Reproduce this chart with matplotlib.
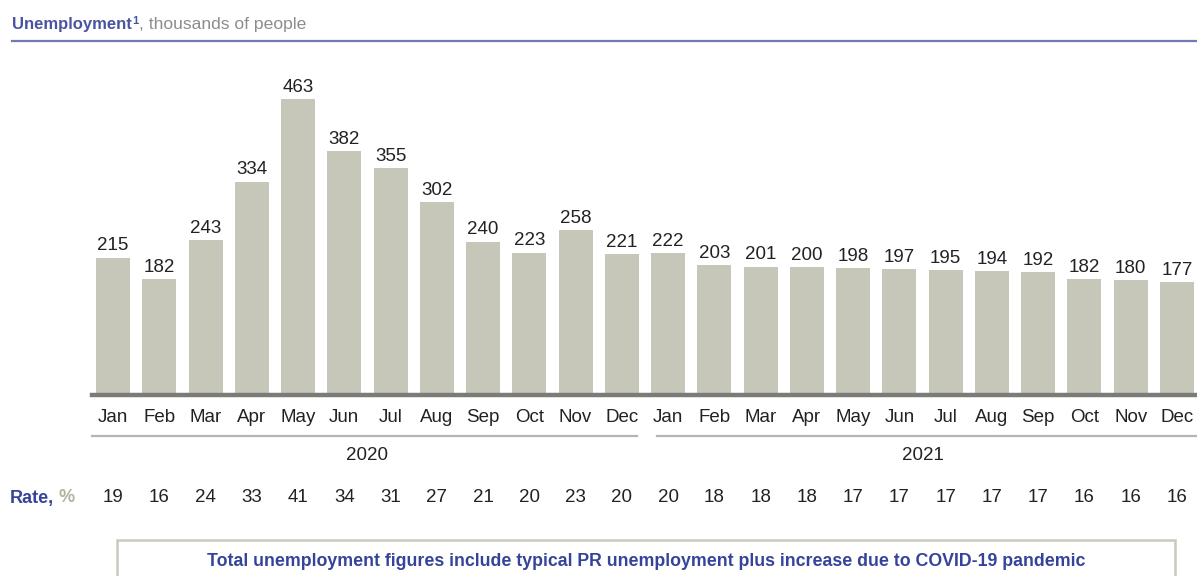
import matplotlib
matplotlib.use("Agg")
import matplotlib.pyplot as plt
import matplotlib.transforms as mtransforms
from matplotlib.patches import Rectangle

plt.rcParams['font.family'] = ['Liberation Sans', 'DejaVu Sans']

months = ["Jan", "Feb", "Mar", "Apr", "May", "Jun", "Jul", "Aug", "Sep", "Oct", "Nov", "Dec"]
years = ["2020", "2021"]
unemployment = [215, 182, 243, 334, 463, 382, 355, 302, 240, 223, 258, 221,
                222, 203, 201, 200, 198, 197, 195, 194, 192, 182, 180, 177]
rate = [19, 16, 24, 33, 41, 34, 31, 27, 21, 20, 23, 20,
        20, 18, 18, 18, 17, 17, 17, 17, 17, 16, 16, 16]
note = "Total unemployment figures include typical PR unemployment plus increase due to COVID-19 pandemic"

W, H = 1197, 576
BAR = "#c6c6b9"
BLUE = "#35449a"
GREY_TXT = "#8c8c8c"
DARK = "#222222"

fig = plt.figure(figsize=(W / 100, H / 100), dpi=100)

# bar axes, placed in pixel terms
left, right, bottom, top = 92, 1197, H - 395, H - 60
ax = fig.add_axes([left / W, bottom / H, (right - left) / W, (top - bottom) / H])
step = (1177 - 113) / 23
x = list(range(len(unemployment)))
ax.bar(x, unemployment, width=34 / step, color=BAR, zorder=2)
ax.set_xlim(-(113 - left) / step, 23 + (right - 1177) / step)
ax.set_ylim(0, (top - bottom) / 0.639)
for s in ["top", "right", "left"]:
    ax.spines[s].set_visible(False)
ax.spines["bottom"].set_color("#7b7b78")
ax.spines["bottom"].set_linewidth(3.2)
ax.set_yticks([])
ax.set_xticks(x)
ax.set_xticklabels(months * 2, fontsize=13.5, color=DARK)
ax.tick_params(axis="x", length=0, pad=10)

for xi, v in zip(x, unemployment):
    ax.text(xi, v + 5, str(v), ha="center", va="bottom", fontsize=13.5, color=DARK)

# rows below the axis: x in data, y in figure fraction
tr = mtransforms.blended_transform_factory(ax.transData, fig.transFigure)
spans = [(-0.454, 11.33), (11.76, 23.43)]
for i, yr in enumerate(years):
    ax.plot(spans[i], [(H - 436) / H] * 2, color="#b4b4b4", lw=1.6,
            transform=tr, clip_on=False)
    ax.text(i * 12 + 5.5, (H - 456) / H, yr, ha="center", va="center",
            fontsize=13.5, color=DARK, transform=tr)

for xi, r in zip(x, rate):
    ax.text(xi, (H - 498) / H, str(r), ha="center", va="center",
            fontsize=13.5, color=DARK, transform=tr)

t = fig.text(10 / W, (H - 498) / H, "Rate,", ha="left", va="center",
             fontsize=13, fontweight="bold", color=BLUE)
ax.annotate(" %", xy=(1, 0), xycoords=t, va="bottom", ha="left",
            fontsize=13, fontweight="bold", color="#b3b3a2")

# title
t1 = fig.text(12 / W, (H - 24) / H, "Unemployment", ha="left", va="center",
              fontsize=12, fontweight="bold", color="#4a55a0")
ax.annotate("1", xy=(1, 0.4), xycoords=t1, va="bottom", ha="left",
            fontsize=8, fontweight="bold", color="#4a55a0")
ax.annotate(", thousands of people", xy=(1, 0), xycoords=t1, xytext=(5, 0),
            textcoords="offset points", va="bottom", ha="left",
            fontsize=12.6, color=GREY_TXT)
fig.add_artist(plt.Line2D([12 / W, 1], [(H - 41) / H] * 2, color="#6f7cb2", lw=1.6))

# note box
fig.add_artist(Rectangle((117 / W, -0.02), (1175 - 117) / W, (H - 540) / H + 0.02,
                         transform=fig.transFigure, fill=False,
                         edgecolor="#c9c9c0", lw=1.8))
fig.text((117 + 1175) / 2 / W, (H - 561) / H, note, ha="center", va="center",
         fontsize=12.8, fontweight="bold", color=BLUE)

fig.savefig("out.png", dpi=100)
